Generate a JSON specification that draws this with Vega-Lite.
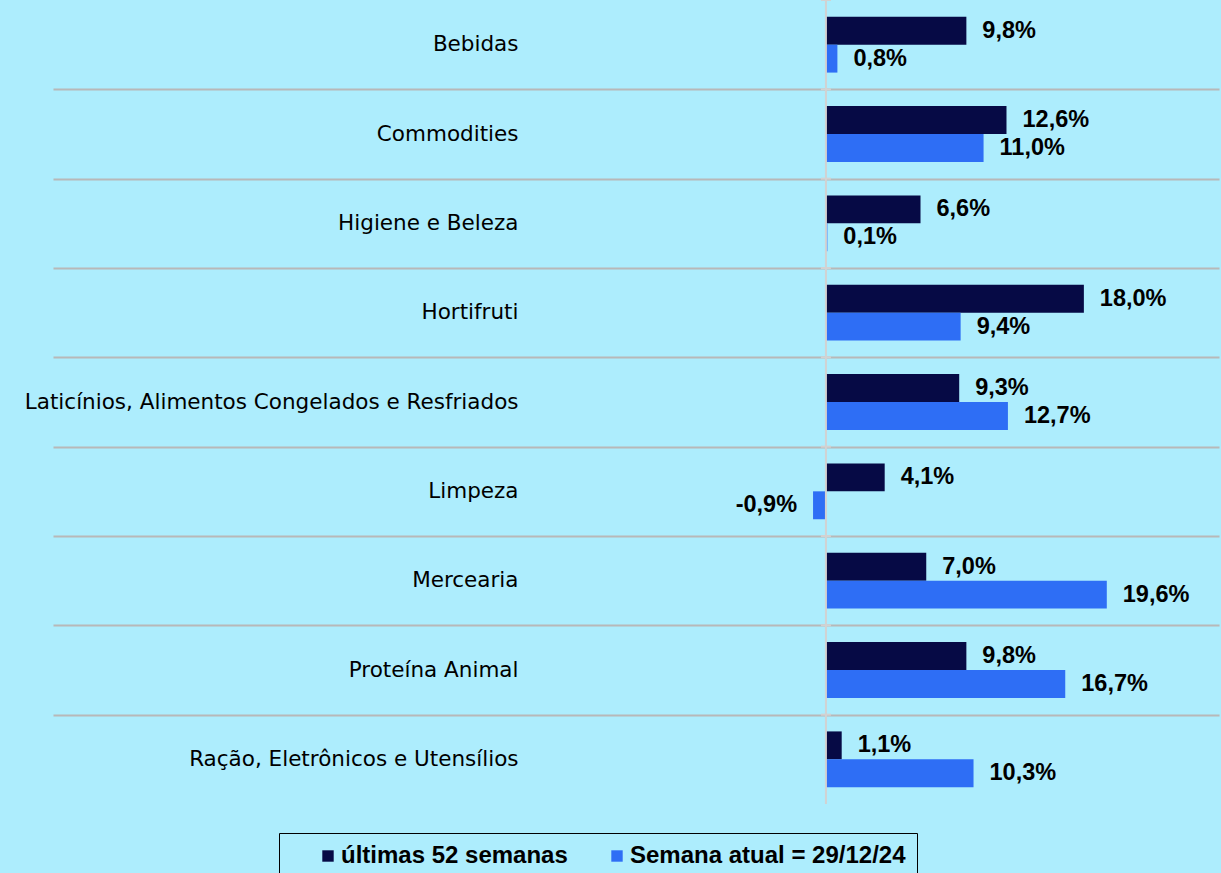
{
  "$schema": "https://vega.github.io/schema/vega-lite/v6.json",
  "width": 1166,
  "height": 804,
  "autosize": "none",
  "padding": {"left": 53, "top": 0, "right": 2, "bottom": 69},
  "background": "#ADEDFD",
  "config": {
    "view": {"stroke": null},
    "locale": {"number": {"decimal": ",", "thousands": ".", "grouping": [3], "currency": ["R$", ""], "minus": "-"}}
  },
  "data": {
    "values": [
      {"cat": "Bebidas", "serie": "últimas 52 semanas", "v": 0.098},
      {"cat": "Bebidas", "serie": "Semana atual = 29/12/24", "v": 0.008},
      {"cat": "Commodities", "serie": "últimas 52 semanas", "v": 0.126},
      {"cat": "Commodities", "serie": "Semana atual = 29/12/24", "v": 0.110},
      {"cat": "Higiene e Beleza", "serie": "últimas 52 semanas", "v": 0.066},
      {"cat": "Higiene e Beleza", "serie": "Semana atual = 29/12/24", "v": 0.001},
      {"cat": "Hortifruti", "serie": "últimas 52 semanas", "v": 0.180},
      {"cat": "Hortifruti", "serie": "Semana atual = 29/12/24", "v": 0.094},
      {"cat": "Laticínios, Alimentos Congelados e Resfriados", "serie": "últimas 52 semanas", "v": 0.093},
      {"cat": "Laticínios, Alimentos Congelados e Resfriados", "serie": "Semana atual = 29/12/24", "v": 0.127},
      {"cat": "Limpeza", "serie": "últimas 52 semanas", "v": 0.041},
      {"cat": "Limpeza", "serie": "Semana atual = 29/12/24", "v": -0.009},
      {"cat": "Mercearia", "serie": "últimas 52 semanas", "v": 0.070},
      {"cat": "Mercearia", "serie": "Semana atual = 29/12/24", "v": 0.196},
      {"cat": "Proteína Animal", "serie": "últimas 52 semanas", "v": 0.098},
      {"cat": "Proteína Animal", "serie": "Semana atual = 29/12/24", "v": 0.167},
      {"cat": "Ração, Eletrônicos e Utensílios", "serie": "últimas 52 semanas", "v": 0.011},
      {"cat": "Ração, Eletrônicos e Utensílios", "serie": "Semana atual = 29/12/24", "v": 0.103}
    ]
  },
  "layer": [
    {
      "mark": {"type": "bar"},
      "encoding": {
        "y": {
          "field": "cat",
          "type": "nominal",
          "sort": null,
          "scale": {"paddingInner": 0, "paddingOuter": 0},
          "axis": {
            "title": null,
            "domain": false,
            "ticks": false,
            "tickBand": "extent",
            "grid": true,
            "gridColor": "#B8B8B8",
            "gridWidth": 2,
            "gridOpacity": {"condition": {"test": "datum.value === 'Ração, Eletrônicos e Utensílios' || datum.extra", "value": 0}, "value": 1},
            "labelPadding": -465,
            "labelAlign": "right",
            "labelLimit": 0,
            "labelFont": "DejaVu Sans",
            "labelFontSize": 21.5,
            "labelColor": "#000000"
          }
        },
        "yOffset": {
          "field": "serie",
          "type": "nominal",
          "scale": {"domain": ["últimas 52 semanas", "Semana atual = 29/12/24"], "paddingOuter": 0.6, "paddingInner": 0}
        },
        "x": {
          "field": "v",
          "type": "quantitative",
          "scale": {"domain": [-0.5394, 0.2743], "nice": false, "zero": false},
          "axis": null
        },
        "x2": {"datum": 0},
        "color": {
          "field": "serie",
          "type": "nominal",
          "scale": {"domain": ["últimas 52 semanas", "Semana atual = 29/12/24"], "range": ["#060A45", "#2E6EF5"]},
          "legend": {
            "title": null,
            "orient": "none",
            "direction": "horizontal",
            "legendX": 226,
            "legendY": 833,
            "symbolType": "square",
            "symbolSize": 130,
            "symbolStrokeWidth": 0,
            "symbolOffset": 26,
            "columnPadding": 11,
            "labelOffset": 1,
            "labelFont": "Liberation Sans",
            "labelFontWeight": "bold",
            "labelFontSize": 24,
            "labelColor": "#000000",
            "labelLimit": 0,
            "padding": 11,
            "strokeColor": "#000000",
            "fillColor": "#ADEDFD"
          }
        }
      }
    },
    {
      "data": {"values": [{}]},
      "mark": {"type": "rule", "color": "#D2D2D2", "strokeWidth": 2},
      "encoding": {"x": {"datum": 0}}
    },
    {
      "transform": [{"filter": "datum.serie === 'últimas 52 semanas'"}],
      "mark": {"type": "tick", "orient": "horizontal", "color": "#D2D2D2", "size": 10, "thickness": 2, "opacity": 1},
      "encoding": {
        "y": {"field": "cat", "type": "nominal", "sort": null, "bandPosition": 0},
        "x": {"datum": 0}
      }
    },
    {
      "transform": [{"filter": "datum.v >= 0"}],
      "mark": {"type": "text", "align": "left", "baseline": "middle", "dx": 16, "font": "Liberation Sans", "fontWeight": "bold", "fontSize": 23.5, "color": "#000000"},
      "encoding": {
        "y": {"field": "cat", "type": "nominal", "sort": null},
        "yOffset": {"field": "serie", "type": "nominal"},
        "x": {"field": "v", "type": "quantitative"},
        "text": {"field": "v", "type": "quantitative", "format": ".1%"}
      }
    },
    {
      "transform": [{"filter": "datum.v < 0"}],
      "mark": {"type": "text", "align": "right", "baseline": "middle", "dx": -16, "font": "Liberation Sans", "fontWeight": "bold", "fontSize": 23.5, "color": "#000000"},
      "encoding": {
        "y": {"field": "cat", "type": "nominal", "sort": null},
        "yOffset": {"field": "serie", "type": "nominal"},
        "x": {"field": "v", "type": "quantitative"},
        "text": {"field": "v", "type": "quantitative", "format": ".1%"}
      }
    }
  ]
}
